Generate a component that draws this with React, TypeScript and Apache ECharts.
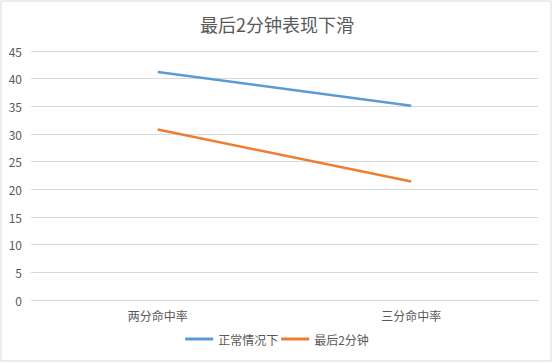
import React, { useEffect, useRef } from "react";
import * as echarts from "echarts";

const categories = ["两分命中率", "三分命中率"];
const normalValues = [41.2, 35.1];
const last2Values = [30.8, 21.4];
const seriesNames = ["正常情况下", "最后2分钟"];
const titleText = "最后2分钟表现下滑";

export default function App() {
  const ref = useRef<HTMLDivElement>(null);
  useEffect(() => {
    document.body.style.margin = "0";
    const chart = echarts.init(ref.current!, null, { renderer: "svg" });
    const font = '"Noto Sans CJK SC", "Noto Sans", sans-serif';
    chart.setOption({
      animation: false,
      backgroundColor: "#fff",
      textStyle: { fontFamily: font },
      title: {
        text: titleText,
        left: "center",
        top: 10,
        textStyle: { fontSize: 18, fontWeight: "normal", color: "#595959", fontFamily: font },
      },
      graphic: [
        {
          type: "rect",
          shape: { x: 1, y: 1, width: 550, height: 360 },
          style: { fill: "none", stroke: "#d9d9d9", lineWidth: 1 },
          silent: true,
        },
      ],
      legend: {
        bottom: 14,
        left: "center",
        icon: "rect",
        itemWidth: 28,
        itemHeight: 3,
        itemGap: 3,
        data: seriesNames,
        textStyle: { fontSize: 12, color: "#595959", fontFamily: font },
      },
      grid: { left: 31, right: 16, top: 51, bottom: 64 },
      xAxis: {
        type: "category",
        data: categories,
        boundaryGap: true,
        axisLine: { show: true, lineStyle: { color: "#d9d9d9", width: 1 } },
        axisTick: { show: false },
        axisLabel: { color: "#595959", fontSize: 12, margin: 9, fontFamily: font },
      },
      yAxis: {
        type: "value",
        min: 0,
        max: 45,
        interval: 5,
        axisLine: { show: false },
        axisTick: { show: false },
        splitLine: { lineStyle: { color: "#d9d9d9", width: 1 } },
        axisLabel: { color: "#595959", fontSize: 12, margin: 9, fontFamily: font },
      },
      series: [
        {
          name: seriesNames[0],
          type: "line",
          data: normalValues,
          symbol: "none",
          lineStyle: { color: "#5B9BD5", width: 2.5 },
          itemStyle: { color: "#5B9BD5" },
        },
        {
          name: seriesNames[1],
          type: "line",
          data: last2Values,
          symbol: "none",
          lineStyle: { color: "#ED7D31", width: 2.5 },
          itemStyle: { color: "#ED7D31" },
        },
      ],
    });
    return () => chart.dispose();
  }, []);
  return <div ref={ref} style={{ position: "absolute", left: 0, top: 0, width: 554, height: 364 }} />;
}
